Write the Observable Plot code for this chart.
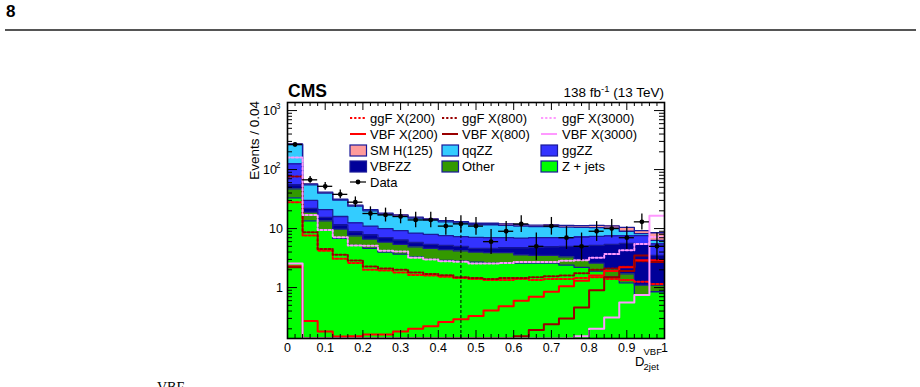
<!DOCTYPE html>
<html>
<head>
<meta charset="utf-8">
<script src="https://cdn.jsdelivr.net/npm/d3@7"></script>
<script src="https://cdn.jsdelivr.net/npm/@observablehq/plot@0.6"></script>
<style>
  html, body { margin: 0; padding: 0; background: #fff; }
  #page { position: relative; width: 920px; height: 387px; overflow: hidden; font-family: "Liberation Sans", Arial, Helvetica, sans-serif; }
  #pagenum { position: absolute; left: 6px; top: 2px; font-weight: bold; font-size: 17px; color: #000; }
  #rule { position: absolute; left: 5px; width: 911px; top: 29px; height: 0; border-top: 2px solid #555; }
  #caption { position: absolute; left: 157px; top: 380px; font-family: "Liberation Serif", "Times New Roman", serif; font-size: 14px; color: #000; }
  #chart { position: absolute; left: 0; top: 0; }
</style>
</head>
<body>
<div id="page">
  <div id="pagenum">8</div>
  <div id="rule"></div>
  <div id="caption">VBF</div>
  <div id="chart"></div>
</div>
<script>
// Binning of D_2jet^VBF: 25 bins of width 0.04
const binLo = [0, 0.04, 0.08, 0.12, 0.16, 0.20, 0.24, 0.28, 0.32, 0.36, 0.40, 0.44, 0.48,
               0.52, 0.56, 0.60, 0.64, 0.68, 0.72, 0.76, 0.80, 0.84, 0.88, 0.92, 0.96];
const binWidth = 0.04;

// Expected backgrounds per bin (stacked, bottom to top)
const zjets = [33, 13.5, 9.5, 6.8, 5.2, 4.6, 4.0, 3.7, 3.3, 3.0, 2.9, 2.8, 2.7,
               2.6, 2.6, 2.6, 2.6, 2.6, 2.4, 2.2, 1.9, 1.5, 1.2, 0.75, 0.85];
const other = [14, 5.5, 4.0, 3.0, 2.3, 2.0, 1.9, 1.7, 1.6, 1.6, 1.5, 1.4, 1.3,
               1.3, 1.3, 1.0, 0.9, 0.9, 0.9, 0.8, 0.7, 0.6, 0.5, 0.35, 0.25];
const vbfzz = [8, 3.0, 2.0, 1.7, 1.3, 1.2, 1.1, 1.0, 0.9, 0.8, 0.8, 0.8, 0.6,
               0.7, 0.8, 1.1, 1.3, 1.4, 1.7, 2.0, 2.6, 3.3, 3.9, 4.4, 2.4];
const ggzz  = [70, 8, 5.5, 4.5, 3.7, 3.2, 3.0, 2.8, 2.6, 2.6, 2.4, 2.3, 2.5,
               2.4, 2.3, 2.2, 2.2, 2.1, 2.0, 2.2, 2.2, 2.1, 1.9, 2.1, 2.0];
const qqzz  = [140, 25, 19, 14.5, 11.5, 9.0, 7.5, 7.1, 6.6, 6.0, 5.4, 5.2, 4.5,
               4.6, 4.3, 4.1, 3.8, 3.8, 3.6, 3.3, 3.0, 2.7, 1.5, 0.6, 0.8];
const smh   = [7, 2.0, 1.5, 1.0, 1.0, 1.0, 0.7, 0.7, 0.6, 0.6, 0.6, 0.6, 0.7,
               0.7, 0.7, 0.6, 0.6, 0.7, 0.7, 0.7, 0.9, 0.9, 1.5, 1.0, 2.2];

// Observed events per bin
const dataCounts = [266, 67, 52, 38, 28, 18, 17, 16, 14, 14, 11, 12, 11,
                    6, 9, 12, 5, 11, 7, 5, 9, 10, 7, 13, 5];

// Hypothetical heavy resonance X, gluon fusion and VBF production
const ggF200  = [28, 7.6, 4.2, 3.07, 2.6, 2.0, 1.95, 1.8, 1.63, 1.6, 1.52, 1.45, 1.4,
                 1.35, 1.35, 1.4, 1.35, 1.4, 1.4, 1.45, 1.5, 1.4, 1.35, 1.25, 1.15];
const ggF800  = [76, 8.7, 4.5, 3.6, 2.87, 2.27, 2.1, 2.0, 1.8, 1.7, 1.62, 1.5, 1.45,
                 1.4, 1.45, 1.45, 1.5, 1.55, 1.6, 1.75, 2.0, 2.1, 2.25, 2.8, 2.7];
const ggF3000 = [160, 17, 9.5, 7.1, 5.15, 5.1, 4.2, 4.07, 3.2, 3.0, 2.8, 2.75, 2.55,
                 2.55, 2.6, 2.7, 2.7, 2.7, 2.85, 2.9, 3.2, 3.7, 4.3, 5.5, 7.2];
const vbf200  = [2.3, 0.27, 0.18, 0.148, 0.15, 0.16, 0.16, 0.18, 0.2, 0.22, 0.26, 0.29, 0.33,
                 0.41, 0.48, 0.6, 0.7, 0.85, 1.05, 1.3, 1.6, 1.9, 2.2, 2.9, 2.9];
const vbf800  = [2.2, 0.05, 0.04, 0.03, 0.03, 0.03, 0.03, 0.03, 0.04, 0.04, 0.05, 0.06, 0.07,
                 0.09, 0.11, 0.15, 0.19, 0.24, 0.3, 0.46, 0.9, 1.5, 1.9, 3.5, 2.7];
const vbf3000 = [2.55, 0.01, 0.01, 0.01, 0.01, 0.01, 0.01, 0.01, 0.01, 0.01, 0.01, 0.01, 0.01,
                 0.01, 0.01, 0.01, 0.01, 0.02, 0.05, 0.15, 0.2, 0.31, 0.56, 0.75, 16.5];

// Working point marked by the dashed line
const cutValue = 0.46;
const cutTop = 12;

// Axis ticks and labels
const xMajor = [0, 0.1, 0.2, 0.3, 0.4, 0.5, 0.6, 0.7, 0.8, 0.9, 1];
const xLabels = ["0", "0.1", "0.2", "0.3", "0.4", "0.5", "0.6", "0.7", "0.8", "0.9", "1"];
const xMinor = [0.02, 0.04, 0.06, 0.08, 0.12, 0.14, 0.16, 0.18, 0.22, 0.24, 0.26, 0.28,
                0.32, 0.34, 0.36, 0.38, 0.42, 0.44, 0.46, 0.48, 0.52, 0.54, 0.56, 0.58,
                0.62, 0.64, 0.66, 0.68, 0.72, 0.74, 0.76, 0.78, 0.82, 0.84, 0.86, 0.88,
                0.92, 0.94, 0.96, 0.98];
const yMajor = [1, 10, 100, 1000];
const yBase = ["1", "10", "10", "10"];
const yExp = ["", "", "2", "3"];
const yMinor = [0.2, 0.3, 0.4, 0.5, 0.6, 0.7, 0.8, 0.9, 2, 3, 4, 5, 6, 7, 8, 9,
                20, 30, 40, 50, 60, 70, 80, 90, 200, 300, 400, 500, 600, 700, 800, 900];

const yDomain = [0.137, 1370];

// Colours
const C = {
  zjets: "#00ff00", other: "#339900", vbfzz: "#000099", ggzz: "#3333ff",
  qqzz: "#33ccff", smh: "#ff9b9b", outline: "#1a1a99",
  x200: "#ff0000", x800: "#990000", x3000: "#ff99ff"
};

// ---- Build mark data ----
const layers = [
  {key: "zjets", values: zjets},
  {key: "other", values: other},
  {key: "vbfzz", values: vbfzz},
  {key: "ggzz", values: ggzz},
  {key: "qqzz", values: qqzz},
  {key: "smh", values: smh}
];

const stackRects = [];
const stackTops = []; // one step outline per cumulative layer
const running = binLo.map(() => 0);
for (const layer of layers) {
  const tops = [];
  binLo.forEach((lo, i) => {
    const y1 = running[i];
    const y2 = y1 + layer.values[i];
    running[i] = y2;
    stackRects.push({x1: lo, x2: lo + binWidth, y1: Math.max(y1, yDomain[0]), y2, fill: C[layer.key]});
    tops.push(y2);
  });
  stackTops.push({key: layer.key, tops});
}

function stepPoints(values, series) {
  const pts = binLo.map((lo, i) => ({x: lo, y: values[i], series}));
  pts.push({x: binLo[binLo.length - 1] + binWidth, y: values[values.length - 1], series});
  return pts;
}

const outlinePts = stackTops.flatMap(s => stepPoints(s.tops, s.key));

const signals = [
  {key: "ggF200", values: ggF200, color: C.x200, dash: "2.2,2"},
  {key: "ggF800", values: ggF800, color: C.x800, dash: "2.2,2"},
  {key: "ggF3000", values: ggF3000, color: C.x3000, dash: "2.2,2"},
  {key: "vbf200", values: vbf200, color: C.x200, dash: null},
  {key: "vbf800", values: vbf800, color: C.x800, dash: null},
  {key: "vbf3000", values: vbf3000, color: C.x3000, dash: null}
];

// Approximate 68% Poisson intervals for the observed counts
const dataPts = binLo.map((lo, i) => {
  const n = dataCounts[i];
  const lowF = 1 - 1 / (9 * n) - 1 / (3 * Math.sqrt(n));
  return {
    lo, hi: lo + binWidth, xc: lo + binWidth / 2, n,
    low: n * lowF * lowF * lowF,
    high: n + Math.sqrt(n + 0.75) + 1
  };
});

// ---- Geometry of the frame ----
const W = 920, H = 387;
const mL = 287, mR = 256, mT = 102, mB = 49;
const frameW = W - mL - mR;   // 377
const frameH = H - mT - mB;   // 236
const majLen = 8, minLen = 4;

const fontFam = "'Liberation Sans', Arial, Helvetica, sans-serif";

const marks = [
  // stacked expectation
  Plot.rect(stackRects, {x1: "x1", x2: "x2", y1: "y1", y2: "y2", fill: "fill", inset: 0,
    shapeRendering: "crispEdges", clip: true}),
  Plot.line(outlinePts, {x: "x", y: "y", z: "series", curve: "step-after",
    stroke: C.outline, strokeWidth: 1.3, clip: true}),
  // signal hypotheses
  ...signals.map(s => Plot.line(stepPoints(s.values, s.key), {x: "x", y: "y", curve: "step-after",
    stroke: s.color, strokeWidth: 2, strokeDasharray: s.dash, clip: true})),
  // dashed working point
  Plot.ruleX([cutValue], {x: d => d, y1: yDomain[0], y2: cutTop, stroke: "#000",
    strokeWidth: 1, strokeDasharray: "3,2"}),
  // data
  Plot.ruleY(dataPts, {y: "n", x1: "lo", x2: "hi", stroke: "#000", strokeWidth: 1.3}),
  Plot.ruleX(dataPts, {x: "xc", y1: "low", y2: "high", stroke: "#000", strokeWidth: 1.3, clip: true}),
  Plot.dot(dataPts, {x: "xc", y: "n", r: 2.4, fill: "#000", stroke: null}),
  // frame
  Plot.frame({stroke: "#000", strokeWidth: 1.6}),
  // ticks, inward on all four sides
  Plot.tickX(xMajor, {x: d => d, insetTop: frameH - majLen, stroke: "#000"}),
  Plot.tickX(xMinor, {x: d => d, insetTop: frameH - minLen, stroke: "#000"}),
  Plot.tickX(xMajor, {x: d => d, insetBottom: frameH - majLen, stroke: "#000"}),
  Plot.tickX(xMinor, {x: d => d, insetBottom: frameH - minLen, stroke: "#000"}),
  Plot.tickY(yMajor, {y: d => d, insetRight: frameW - majLen - 2, stroke: "#000"}),
  Plot.tickY(yMinor, {y: d => d, insetRight: frameW - minLen - 1, stroke: "#000"}),
  Plot.tickY(yMajor, {y: d => d, insetLeft: frameW - majLen - 2, stroke: "#000"}),
  Plot.tickY(yMinor, {y: d => d, insetLeft: frameW - minLen - 1, stroke: "#000"}),
  // x tick labels
  Plot.text(xMajor, {x: d => d, text: (d, i) => xLabels[i], frameAnchor: "bottom",
    dy: 9, lineAnchor: "middle", textAnchor: "middle", fontSize: 12.5, fill: "#000"})
];

const chart = Plot.plot({
  width: W, height: H,
  marginLeft: mL, marginRight: mR, marginTop: mT, marginBottom: mB,
  style: {background: "none", fontFamily: fontFam, overflow: "visible"},
  x: {domain: [0, 1], axis: null},
  y: {type: "log", domain: yDomain, clamp: true, axis: null},
  color: {type: "identity"},
  marks
});

const svg = d3.select(chart);
const yS = chart.scale("y");

// y tick labels with exponents
const yl = svg.append("g").attr("font-family", fontFam).attr("fill", "#000").attr("text-anchor", "end");
yMajor.forEach((v, i) => {
  const py = yS.apply(v);
  const hasExp = yExp[i] !== "";
  yl.append("text").attr("x", hasExp ? mL - 10 : mL - 4).attr("y", py + 4.5)
    .attr("font-size", 12.5).text(yBase[i]);
  if (hasExp) yl.append("text").attr("x", mL - 6.5).attr("y", py - 1)
    .attr("font-size", 8.5).text(yExp[i]);
});

// titles
const t = svg.append("g").attr("font-family", fontFam).attr("fill", "#000").attr("text-anchor", "start");
t.append("text").attr("x", mL + 1).attr("y", 97).attr("font-weight", "bold")
  .attr("font-size", 17.5).text("CMS");
const lumi = t.append("text").attr("x", mL + frameW).attr("y", 97).attr("text-anchor", "end")
  .attr("font-size", 13.5);
lumi.append("tspan").text("138 fb");
lumi.append("tspan").attr("dy", -5).attr("font-size", 9.5).text("-1");
lumi.append("tspan").attr("dy", 5).text(" (13 TeV)");

t.append("text").attr("transform", `translate(258.5,${mT - 1}) rotate(-90)`)
  .attr("text-anchor", "end").attr("font-size", 13.5).text("Events / 0.04");

const xt = t.append("g");
xt.append("text").attr("x", 635).attr("y", 366).attr("font-size", 13).text("D");
xt.append("text").attr("x", 643.5).attr("y", 355).attr("font-size", 9.5).text("VBF");
xt.append("text").attr("x", 643.5).attr("y", 369.5).attr("font-size", 9.5).text("2jet");

// legend
const legRows = [118, 134, 150.5, 166.5, 182];
const legCols = [350, 442, 541];
const legText = [370, 462, 562];
const legend = [
  [{l: "ggF X(200)", k: "line", c: C.x200, d: "2.2,2"}, {l: "ggF X(800)", k: "line", c: C.x800, d: "2.2,2"}, {l: "ggF X(3000)", k: "line", c: C.x3000, d: "2.2,2"}],
  [{l: "VBF X(200)", k: "line", c: C.x200}, {l: "VBF X(800)", k: "line", c: C.x800}, {l: "VBF X(3000)", k: "line", c: C.x3000}],
  [{l: "SM H(125)", k: "box", c: C.smh}, {l: "qqZZ", k: "box", c: C.qqzz}, {l: "ggZZ", k: "box", c: C.ggzz}],
  [{l: "VBFZZ", k: "box", c: C.vbfzz}, {l: "Other", k: "box", c: C.other}, {l: "Z + jets", k: "box", c: C.zjets}],
  [{l: "Data", k: "data"}]
];
const lg = svg.append("g").attr("font-family", fontFam).attr("font-size", 13)
  .attr("fill", "#000").attr("text-anchor", "start");
legend.forEach((row, r) => row.forEach((e, c) => {
  const y = legRows[r], x0 = legCols[c];
  if (e.k === "line") {
    lg.append("line").attr("x1", x0).attr("x2", x0 + 16).attr("y1", y).attr("y2", y)
      .attr("stroke", e.c).attr("stroke-width", 2).attr("stroke-dasharray", e.d || null);
  } else if (e.k === "box") {
    lg.append("rect").attr("x", x0).attr("y", y - 5.5).attr("width", 16.5).attr("height", 11)
      .attr("fill", e.c).attr("stroke", C.outline).attr("stroke-width", 1.2);
  } else {
    lg.append("line").attr("x1", x0).attr("x2", x0 + 16).attr("y1", y).attr("y2", y)
      .attr("stroke", "#000").attr("stroke-width", 1.2);
    lg.append("circle").attr("cx", x0 + 8).attr("cy", y).attr("r", 2.4).attr("fill", "#000");
  }
  lg.append("text").attr("x", legText[c]).attr("y", y + 4.6).text(e.l);
}));

document.getElementById("chart").appendChild(chart);
</script>
</body>
</html>
